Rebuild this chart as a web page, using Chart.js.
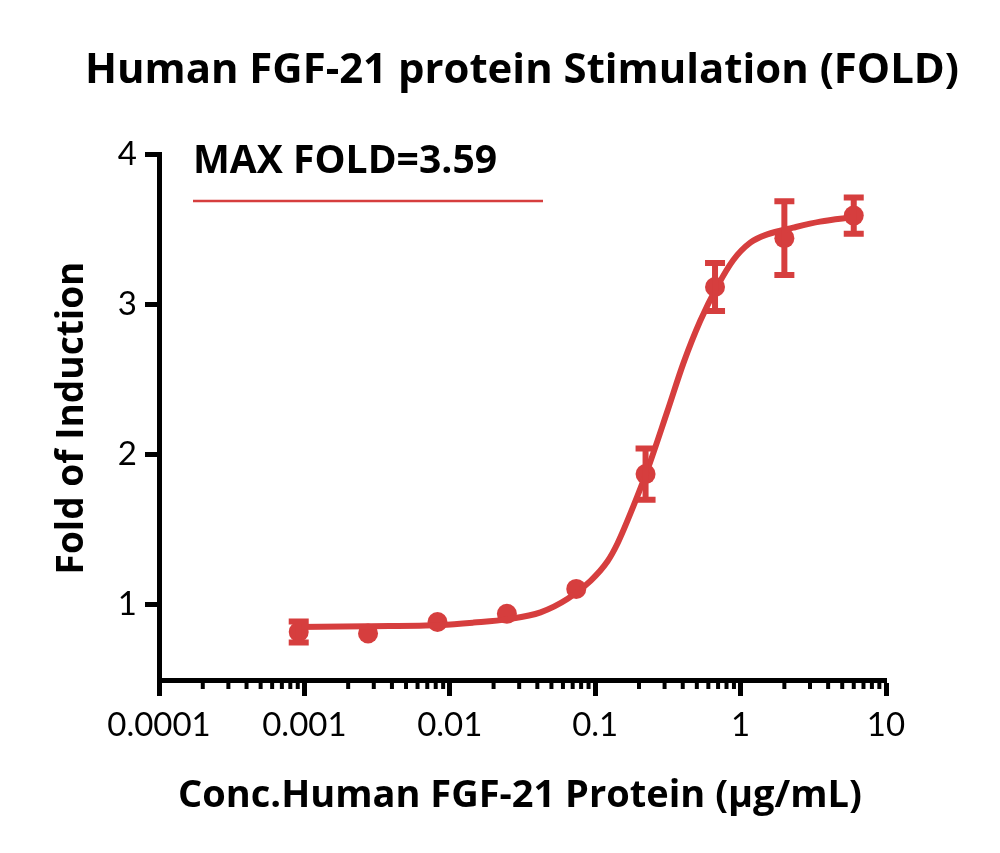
<!DOCTYPE html>
<html>
<head>
<meta charset="utf-8">
<title>Human FGF-21 protein Stimulation (FOLD)</title>
<script src="https://cdn.jsdelivr.net/npm/chart.js@4.4.1/dist/chart.umd.min.js"></script>
<style>
  html, body { margin: 0; padding: 0; background: #ffffff; }
  #wrap { width: 1000px; height: 853px; }
</style>
</head>
<body>
<div id="wrap"><canvas id="chart" width="1000" height="853"></canvas></div>
<script>
// concentrations (ug/mL), 3-fold dilution series
const conc = [0.000914, 0.00274, 0.00823, 0.0247, 0.0741, 0.222, 0.667, 2, 6];
const foldMean = [0.82, 0.81, 0.886, 0.94, 1.106, 1.87, 3.115, 3.44, 3.59];
const foldErr = [0.07, 0, 0, 0, 0, 0.17, 0.16, 0.245, 0.12];

// fitted curve
const fitX = [0.0009, 0.0027, 0.0087, 0.0146, 0.0251, 0.0421, 0.0647, 0.0929, 0.1216, 0.1426,
              0.1837, 0.229, 0.314, 0.405, 0.528, 0.692, 0.891, 1.166, 1.525, 2.30, 3.52, 6.0];
const fitY = [0.853, 0.858, 0.866, 0.882, 0.905, 0.95, 1.04, 1.16, 1.29, 1.41,
              1.66, 1.90, 2.29, 2.61, 2.89, 3.12, 3.295, 3.41, 3.465, 3.51, 3.55, 3.58];

const xMajorTicks = [0.0001, 0.001, 0.01, 0.1, 1, 10];
const xTickLabels = ['0.0001', '0.001', '0.01', '0.1', '1', '10'];
const xMinorSteps = [2, 3, 4, 5, 6, 7, 8, 9];
const yTicks = [1, 2, 3, 4];

const titleText = 'Human FGF-21 protein Stimulation (FOLD)';
const xTitle = 'Conc.Human FGF-21 Protein (\u03bcg/mL)';
const yTitle = 'Fold of Induction';
const legendText = 'MAX FOLD=3.59';

const RED = '#d63e3e';
const FONT = 'Lato, "Open Sans", sans-serif';
const BOLD_FONT = '"Open Sans", Lato, sans-serif';

// set a bold font whose size makes the text span the given width
function fitFont(ctx, text, width) {
    ctx.font = 'bold 100px ' + BOLD_FONT;
    const size = 100 * width / ctx.measureText(text).width;
    ctx.font = 'bold ' + size.toFixed(1) + 'px ' + BOLD_FONT;
}

// error bars + minor ticks + texts
const extras = {
    id: 'extras',
    afterDatasetsDraw(chart) {
        const ctx = chart.ctx;
        const xs = chart.scales.x, ys = chart.scales.y;
        ctx.save();
        ctx.strokeStyle = RED;
        ctx.lineWidth = 6;
        ctx.lineCap = 'butt';
        conc.forEach((c, i) => {
            if (!foldErr[i]) return;
            const px = xs.getPixelForValue(c);
            const top = ys.getPixelForValue(foldMean[i] + foldErr[i]);
            const bot = ys.getPixelForValue(foldMean[i] - foldErr[i]);
            ctx.beginPath();
            ctx.moveTo(px, top); ctx.lineTo(px, bot);
            ctx.moveTo(px - 10, top); ctx.lineTo(px + 10, top);
            ctx.moveTo(px - 10, bot); ctx.lineTo(px + 10, bot);
            ctx.stroke();
        });
        ctx.restore();
    },
    afterDraw(chart) {
        const ctx = chart.ctx;
        const xs = chart.scales.x;
        const area = chart.chartArea;
        ctx.save();
        // minor ticks on log axis
        ctx.strokeStyle = '#000';
        ctx.lineWidth = 4;
        xMajorTicks.slice(0, -1).forEach(m => {
            xMinorSteps.forEach(s => {
                const px = xs.getPixelForValue(m * s);
                ctx.beginPath();
                ctx.moveTo(px, area.bottom);
                ctx.lineTo(px, area.bottom + 9);
                ctx.stroke();
            });
        });

        ctx.fillStyle = '#000';
        ctx.textBaseline = 'alphabetic';
        // main title
        ctx.textAlign = 'center';
        fitFont(ctx, titleText, 875);
        ctx.fillText(titleText, 522, 83);
        // x title
        fitFont(ctx, xTitle, 684);
        ctx.fillText(xTitle, 520, 807);
        // y title
        ctx.save();
        ctx.translate(83, 418);
        ctx.rotate(-Math.PI / 2);
        fitFont(ctx, yTitle, 313);
        ctx.fillText(yTitle, 0, 0);
        ctx.restore();
        // legend
        ctx.textAlign = 'left';
        fitFont(ctx, legendText, 304);
        ctx.fillText(legendText, 193, 173);
        ctx.strokeStyle = RED;
        ctx.lineWidth = 2.5;
        ctx.beginPath();
        ctx.moveTo(193, 201);
        ctx.lineTo(543, 201);
        ctx.stroke();
        ctx.restore();
    }
};

const ctx = document.getElementById('chart').getContext('2d');
new Chart(ctx, {
    type: 'scatter',
    data: {
        datasets: [{
            label: 'fit',
            data: fitX.map((x, i) => ({ x: x, y: fitY[i] })),
            showLine: true,
            borderColor: RED,
            borderWidth: 6,
            pointRadius: 0,
            cubicInterpolationMode: 'monotone',
            fill: false
        }, {
            label: 'FGF-21',
            data: conc.map((x, i) => ({ x: x, y: foldMean[i] })),
            showLine: false,
            backgroundColor: RED,
            borderColor: RED,
            pointRadius: 10,
            pointBorderWidth: 0
        }]
    },
    options: {
        responsive: false,
        animation: false,
        layout: { padding: { top: 154, right: 114, left: 0, bottom: 0 } },
        plugins: {
            legend: { display: false },
            title: { display: false },
            tooltip: { enabled: false }
        },
        scales: {
            x: {
                type: 'logarithmic',
                min: 0.0001,
                max: 10,
                afterBuildTicks: s => { s.ticks = xMajorTicks.map(v => ({ value: v })); },
                afterFit: s => { s.height = 173; },
                ticks: {
                    autoSkip: false,
                    maxRotation: 0,
                    padding: 10,
                    color: '#000',
                    font: { family: FONT, size: 33 },
                    callback: (v, i) => xTickLabels[i]
                },
                grid: {
                    drawOnChartArea: false,
                    tickLength: 16,
                    tickWidth: 5,
                    tickColor: '#000'
                },
                border: { display: true, color: '#000', width: 5 }
            },
            y: {
                min: 0.5,
                max: 4,
                afterBuildTicks: s => { s.ticks = yTicks.map(v => ({ value: v })); },
                afterFit: s => { s.width = 159; },
                ticks: {
                    padding: 8,
                    color: '#000',
                    font: { family: FONT, size: 33 }
                },
                grid: {
                    drawOnChartArea: false,
                    tickLength: 14,
                    tickWidth: 5,
                    tickColor: '#000'
                },
                border: { display: true, color: '#000', width: 5 }
            }
        }
    },
    plugins: [extras]
});
</script>
</body>
</html>
